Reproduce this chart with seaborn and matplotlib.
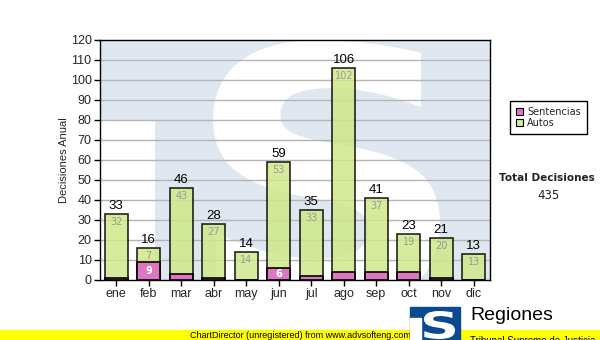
import matplotlib
matplotlib.use("Agg")
import matplotlib.pyplot as plt
from matplotlib.patches import Rectangle, Patch, PathPatch
from matplotlib.textpath import TextPath
from matplotlib.font_manager import FontProperties
from matplotlib.transforms import Affine2D
import seaborn as sns
import pandas as pd

meses = ["ene", "feb", "mar", "abr", "may", "jun", "jul", "ago", "sep", "oct", "nov", "dic"]
sentencias = [1, 9, 3, 1, 0, 6, 2, 4, 4, 4, 1, 0]
autos = [32, 7, 43, 27, 14, 53, 33, 102, 37, 19, 20, 13]
totales = [s + a for s, a in zip(sentencias, autos)]
y_ticks = list(range(0, 121, 10))

df = pd.DataFrame({"mes": meses, "Sentencias": sentencias, "Autos": autos, "Total": totales})

sns.set_theme(style="white")
plt.rcParams["font.family"] = ["Liberation Sans", "DejaVu Sans"]

GREEN = "#cfe88a"
PINK = "#dd77c3"
WATER = "#dfe8f1"
LOGO_BLUE = "#0b4a8f"


def emblem_s(x0, x1, y0, y1, color, zorder, target):
    """Heavy S stretched to fill the box (x0, x1) x (y0, y1)."""
    tp = TextPath((0, 0), "S", size=100,
                  prop=FontProperties(family="DejaVu Sans", weight="bold"))
    bb = tp.get_extents()
    tr = (Affine2D().translate(-bb.x0, -bb.y0)
          .scale((x1 - x0) / bb.width, (y1 - y0) / bb.height)
          .translate(x0, y0))
    return PathPatch(tr.transform_path(tp), fc=color, ec="none", zorder=zorder,
                     transform=target)


fig = plt.figure(figsize=(6, 3.4), dpi=100)
ax = fig.add_axes([100 / 600, 60 / 340, 390 / 600, 240 / 340])
ax.set_facecolor(WATER)

# background emblem: light blue field with a white notch (forming a T) and a white S
ax.add_patch(Rectangle((-0.5, 0), 1.7, 80, color="white", zorder=0, lw=0))
ax.add_patch(emblem_s(2.98, 9.96, -13.5, 120, "white", 0.1, ax.transData))

# stacked bars: full total in green, sentencias drawn over the base
sns.barplot(data=df, x="mes", y="Total", color=GREEN, alpha=0.85, width=0.72,
            edgecolor="black", linewidth=1.2, saturation=1, ax=ax, zorder=3)
sns.barplot(data=df, x="mes", y="Sentencias", color=PINK, width=0.72,
            edgecolor="black", linewidth=1.2, saturation=1, ax=ax, zorder=4)

for i, (s, a, t) in enumerate(zip(sentencias, autos, totales)):
    ax.text(i, t + 0.8, str(t), ha="center", va="bottom", fontsize=9.5,
            color="black", zorder=6)
    ax.text(i, t - 1.5, str(a), ha="center", va="top", fontsize=7,
            family="DejaVu Sans", color="#9a9a9a", zorder=6)
    if s >= 5:
        ax.text(i, s / 2, str(s), ha="center", va="center", fontsize=7,
                family="DejaVu Sans", color="white", weight="bold", zorder=6)

ax.set_xlim(-0.5, 11.5)
ax.set_ylim(0, 120)
ax.set_yticks(y_ticks)
ax.set_yticklabels([str(v) for v in y_ticks], fontsize=9)
ax.set_xticks(range(len(meses)))
ax.set_xticklabels(meses, fontsize=9)
ax.set_xlabel("")
ax.set_ylabel("Decisiones Anual", fontsize=8, labelpad=1)
for y in y_ticks[1:-1]:
    ax.axhline(y, color="#b4b4b4", lw=1, zorder=1)
for sp in ax.spines.values():
    sp.set_visible(True)
    sp.set_color("black")
    sp.set_linewidth(1)
ax.tick_params(axis="both", which="major", direction="out", length=4, width=1,
               color="black", pad=2, left=True, bottom=True)

leg = fig.legend(handles=[Patch(facecolor=PINK, edgecolor="black", lw=0.8, label="Sentencias"),
                          Patch(facecolor="#d6eb9b", edgecolor="black", lw=0.8, label="Autos")],
                 loc="upper left", bbox_to_anchor=(505 / 600, 1 - 96 / 340),
                 frameon=True, fancybox=False, edgecolor="black", framealpha=1,
                 prop={"family": "DejaVu Sans", "size": 7}, handlelength=0.8,
                 handleheight=0.8, handletextpad=0.4, borderpad=0.6, labelspacing=0.15)
leg.get_frame().set_linewidth(1)

fig.text(547 / 600, 1 - 178 / 340, "Total Decisiones", ha="center", va="center",
         family="DejaVu Sans", weight="bold", fontsize=7.5, color="#222222")
fig.text(549 / 600, 1 - 196 / 340, "435", ha="center", va="center",
         family="DejaVu Sans", fontsize=8.5, color="#222222")

# footer strip and logo
fig.patches.append(Rectangle((0, 0), 1, 10 / 340, transform=fig.transFigure,
                             color="#ffff00", zorder=1))
fig.text(300 / 600, 5 / 340, "ChartDirector (unregistered) from www.advsofteng.com",
         ha="center", va="center", fontsize=6.5, color="black", zorder=2)
fig.patches.append(Rectangle((410 / 600, 0), 50 / 600, 33 / 340, transform=fig.transFigure,
                             color=LOGO_BLUE, zorder=3))
fig.patches.append(Rectangle((410 / 600, 0), 11 / 600, 22 / 340, transform=fig.transFigure,
                             color="white", zorder=3.5))
fig.patches.append(emblem_s(424 / 600, 455 / 600, 1 / 340, 29 / 340, "white", 4,
                            fig.transFigure))
fig.text(470 / 600, 24 / 340, "Regiones", ha="left", va="center", fontsize=14,
         color="black", zorder=4)
fig.text(470 / 600, -1 / 340, "Tribunal Supremo de Justicia", ha="left", va="center",
         fontsize=7, color="black", zorder=4)

fig.savefig("out.png", dpi=100)
